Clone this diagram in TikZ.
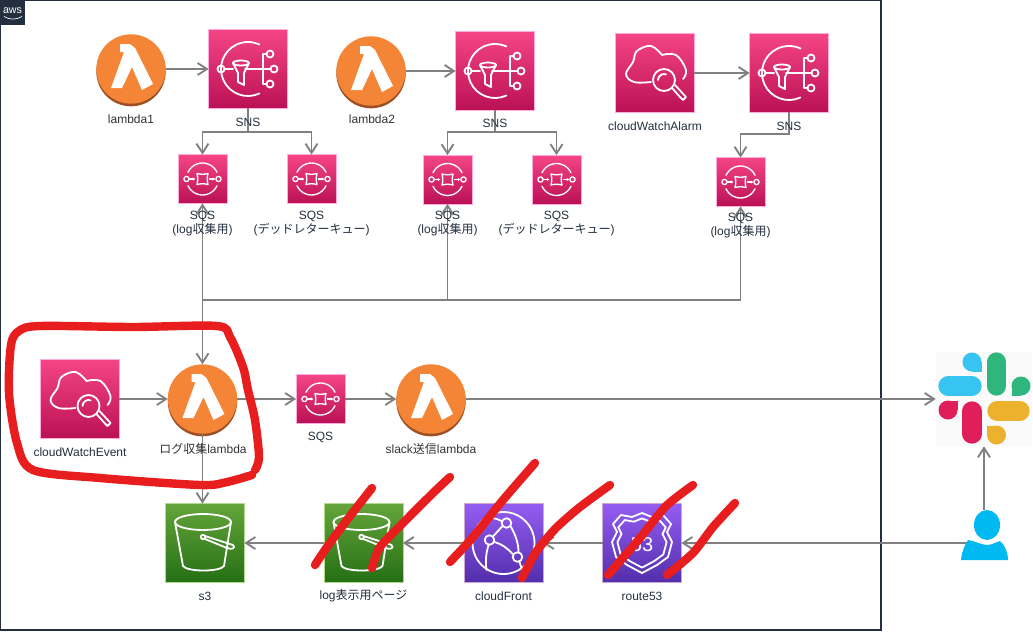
\documentclass[tikz,border=0pt]{standalone}
\usepackage{fontspec}
\setmainfont{Liberation Sans}
\newfontfamily\cjk{Noto Sans CJK JP}
\usetikzlibrary{arrows.meta,positioning,calc}
\definecolor{awsnavy}{HTML}{232F3E}
\definecolor{linegray}{HTML}{808080}
\definecolor{scribred}{HTML}{E81D1D}
\definecolor{lamorange}{HTML}{F58536}
\definecolor{lamdark}{HTML}{9D5025}
\tikzset{
  icbox/.style={rectangle, inner sep=0pt, outer sep=0pt, minimum size=59pt, line width=.5pt},
  icPink/.style={icbox, draw=pink!70!magenta!70, top color=HTMLpinkT, bottom color=HTMLpinkB},
  icSmall/.style={icPink, minimum size=36.5pt},
  icGreen/.style={icbox, draw=green!40!olive!45, top color=HTMLgreenT, bottom color=HTMLgreenB},
  icPurple/.style={icbox, draw=violet!35, top color=HTMLpurpT, bottom color=HTMLpurpB},
  lamb/.style={circle, inner sep=0pt, outer sep=0pt, minimum size=52pt, fill=lamorange,
               preaction={fill=lamdark, transform canvas={yshift=-2pt}}},
  lbl/.style={font=\fontsize{9}{10.5}\selectfont, text=awsnavy, align=center, inner sep=0pt},
  lblD/.style={lbl, text=black!80},
  ar/.style={-{Straight Barb[length=7pt,width=9pt]}, line width=1.4pt, draw=linegray},
  arb/.style={{Straight Barb[length=7pt,width=9pt]}-{Straight Barb[length=7pt,width=9pt]},
              line width=1.4pt, draw=linegray},
  gl/.style={draw=white, line width=1.35pt, line cap=round, line join=round},
  gls/.style={gl, line width=1pt},
  scrib/.style={draw=scribred, line width=6.3pt, line cap=round, line join=round},
  slackbar/.style={line width=14.5pt, line cap=round},
  lambdaglyph/.pic={
    \fill[white] (-11,-25) -- (-11,-17) -- (-7,-17) -- (-20,19) -- (-9,19) -- (1,-2)
      -- (11,21) -- (22,15) -- (4,-21) -- (-1,-25) -- cycle;
  },
  snsglyph/.pic={
    \draw[gl] (65:27) arc[start angle=65,end angle=295,radius=27];
    \draw[gl] (-27,0) circle[radius=3.5] (-23.5,0) -- (-15,0);
    \draw[gl] (-7,-6) ellipse[x radius=8,y radius=2.5];
    \draw[gl] (-15,-6) -- (-10,4) -- (-10,13) -- (-4,16) -- (-4,4) -- (1,-6);
    \draw[gl] (-3,0) -- (22.5,0) (15,-15) -- (15,15) (15,-15) -- (18.5,-15) (15,15) -- (18.5,15);
    \draw[gl] (22,-15) circle[radius=3.5] (26,0) circle[radius=3.5] (22,15) circle[radius=3.5];
  },
  sqsglyph/.pic={
    \draw[gls] (25:16) arc[start angle=25,end angle=155,radius=16]
      (205:16) arc[start angle=205,end angle=335,radius=16];
    \draw[gls] (-16,0) circle[radius=2.6] (16,0) circle[radius=2.6];
    \draw[gls, -{Latex[length=2pt,width=2.5pt]}] (-13,0) -- (-7,0);
    \draw[gls, -{Latex[length=2pt,width=2.5pt]}] (7,0) -- (13,0);
    \draw[gls] (-5.5,-5.5) .. controls (-2,-4.5) and (2,-4.5) .. (5.5,-5.5)
      .. controls (4.5,-2) and (4.5,2) .. (5.5,5.5)
      .. controls (2,4.5) and (-2,4.5) .. (-5.5,5.5)
      .. controls (-4.5,2) and (-4.5,-2) .. (-5.5,-5.5) -- cycle;
  },
  cloudglyph/.pic={
    \draw[gl] plot[smooth, tension=.65] coordinates {(-4,9) (-21,9) (-29,1) (-22,-11) (-18,-22)
      (-4,-27) (7,-18)};
    \draw[gl] plot[smooth, tension=.65] coordinates {(7,-18) (21,-18) (31,-3) (28,6)};
    \draw[gl] (9,7) circle[radius=11];
    \draw[gl] (3,7) arc[start angle=180,end angle=290,radius=6];
    \draw[gl] (17,15) -- (25,24) -- (28,27) -- (31,24) -- (20,12);
  },
  bucketglyph/.pic={
    \draw[gl] (-2,-21) ellipse[x radius=28,y radius=8];
    \draw[gl] (-30,-21) -- (-22,23) .. controls (-18,29) and (15,29) .. (19,23) -- (26,-21);
    \draw[gl] (-2,-6) circle[radius=2.2] (0,-7) -- (28,2) .. controls (31,5) and (27,7) .. (22,5) -- (0,-4);
  },
  cfglyph/.pic={
    \draw[gl] (0,0) circle[radius=31];
    \draw[gl] (3,-20) circle[radius=4.8] (-14,-3) circle[radius=4.8] (14,14) circle[radius=4.8];
    \draw[gl] (-1,-17) -- (-10,-7) (-9,-1) .. controls (-2,1) and (4,5) .. (9,11);
    \draw[gl] (7,-17) .. controls (12,-8) and (15,0) .. (15,9);
    \draw[gl] (-15,2) .. controls (-18,12) and (-18,20) .. (-17,27);
    \draw[gl] (-2,-22) .. controls (-8,-25) and (-14,-27) .. (-22,-22);
    \draw[gl] (16,19) -- (18,25);
  },
  r53glyph/.pic={
    \foreach \s in {1,.82}
      \draw[gl, scale=\s] (0,-30) -- (-10,-26) -- (-21,-28) -- (-29,-19) -- (-25,-11) -- (-30,-1)
        -- (-26,14) -- (-15,22) -- (0,30) -- (15,22) -- (26,14) -- (30,-1) -- (25,-11)
        -- (29,-19) -- (21,-28) -- (10,-26) -- cycle;
    \node[text=white, font=\fontsize{15}{15}\selectfont, inner sep=0pt] (r53txt) at (0,2) {53};
  },
  slackglyph/.pic={
    \draw[slackbar, draw=slackblue] (-36,-13) -- (-12,-13);
    \fill[slackblue] (-12,-37) circle[radius=9.5];
    \fill[slackblue] (-12,-37) rectangle (-2.5,-27.5);
    \draw[slackbar, draw=slackgreen] (12.5,-37) -- (12.5,-13);
    \fill[slackgreen] (37,-13) circle[radius=9.5];
    \fill[slackgreen] (37,-13) rectangle (27.5,-3.5);
    \draw[slackbar, draw=slackred] (-12,12) -- (-12,35);
    \fill[slackred] (-36,11) circle[radius=9.5];
    \fill[slackred] (-36,11) rectangle (-26.5,1.5);
    \draw[slackbar, draw=slackyellow] (13,12) -- (36,12);
    \fill[slackyellow] (12.5,36) circle[radius=9.5];
    \fill[slackyellow] (12.5,36) rectangle (3,26.5);
  },
}
\definecolor{HTMLpinkT}{HTML}{F54585}
\definecolor{HTMLpinkB}{HTML}{BA1155}
\definecolor{HTMLgreenT}{HTML}{64A53B}
\definecolor{HTMLgreenB}{HTML}{256F14}
\definecolor{HTMLpurpT}{HTML}{945DF2}
\definecolor{HTMLpurpB}{HTML}{532EAC}
\definecolor{slackblue}{HTML}{36C5F0}
\definecolor{slackgreen}{HTML}{2EB67D}
\definecolor{slackred}{HTML}{E01E5A}
\definecolor{slackyellow}{HTML}{ECB22E}
\definecolor{usercyan}{HTML}{00B9F1}
\begin{document}
\begin{tikzpicture}[x=0.75pt,y=-0.75pt]
\useasboundingbox (0,0) rectangle (1033,632);

% ============================ aws frame =================================
\draw[draw=awsnavy, line width=.9pt] (0.6,0.6) rectangle (881,630);
\node[rectangle, fill=awsnavy, inner sep=0pt, minimum size=19pt] (awstab) at (12.5,12.5) {};
\node[text=white, font=\fontsize{8}{8}\selectfont, inner sep=0pt] (awstxt) at (12.5,10.5) {aws};
\draw[white, line width=.5pt] (4,16.5) .. controls (10,20) and (16,20) .. (22,16.5);

% ============================ top row ===================================
\node[lamb] (lam1) at (131,69) {};
\pic at (lam1) {lambdaglyph};
\node[icPink] (sns1) at (248,69) {};
\pic at (sns1) {snsglyph};
\node[lamb] (lam2) at (371,71) {};
\pic at (lam2) {lambdaglyph};
\node[icPink] (sns2) at (495,71) {};
\pic at (sns2) {snsglyph};
\node[icPink] (alarm) at (655,73) {};
\pic at (alarm) {cloudglyph};
\node[icPink] (sns3) at (789,73) {};
\pic at (sns3) {snsglyph};

% ============================ queues ====================================
\node[icSmall] (sqs1) at (202.5,179) {};
\node[icSmall] (dlq1) at (311.5,179) {};
\node[icSmall] (sqs2) at (447.5,179.5) {};
\node[icSmall] (dlq2) at (556.5,179.5) {};
\node[icSmall] (sqs3) at (740.5,182) {};
\node[icSmall] (sqs4) at (320.5,399) {};
\foreach \q in {sqs1,dlq1,sqs2,dlq2,sqs3,sqs4}
  \pic at (\q) {sqsglyph};

% ============================ collector row =============================
\node[icPink] (event) at (79.5,399) {};
\pic at (event) {cloudglyph};
\node[lamb] (lam3) at (202.5,399) {};
\pic at (lam3) {lambdaglyph};
\node[lamb] (lam4) at (431,399) {};
\pic at (lam4) {lambdaglyph};
\node[rectangle, fill=black!2, inner sep=0pt, minimum width=72pt, minimum height=70.5pt] (slack) at (984,399) {};
\pic at (slack) {slackglyph};

% ============================ bottom row ================================
\node[icGreen] (s3) at (205,543) {};
\pic at (s3) {bucketglyph};
\node[icGreen] (page) at (363.5,543) {};
\pic at (page) {bucketglyph};
\node[icPurple] (cf) at (503.5,543) {};
\pic at (cf) {cfglyph};
\node[icPurple] (r53) at (642,543) {};
\pic at (r53) {r53glyph};
\node[rectangle, inner sep=0pt, minimum width=35pt, minimum height=37.5pt] (user) at (984,535) {};
\coordinate (userport) at (970,543);

% ============================ connectors ================================
\draw[ar] (lam1) -- (sns1);
\draw[ar] (lam2) -- (sns2);
\draw[ar] (alarm) -- (sns3);
\draw[ar] (sns1.south) -- ++(0,24) -| (sqs1.north);
\draw[ar] (sns1.south) -- ++(0,24) -| (dlq1.north);
\draw[ar] (sns2.south) -- ++(0,22) -| (sqs2.north);
\draw[ar] (sns2.south) -- ++(0,22) -| (dlq2.north);
\draw[ar] (sns3.south) -- ++(0,22) -| (sqs3.north);

\coordinate (bus) at (202.5,300);
\draw[arb] (sqs1.south) -- (lam3.north);
\draw[ar] (bus) -| (sqs2.south);
\draw[ar] (bus) -| (sqs3.south);

\draw[ar] (event) -- (lam3);
\draw[ar] (lam3) -- (sqs4);
\draw[ar] (sqs4) -- (lam4);
\draw[ar] (lam4) -- (slack);
\draw[ar] (lam3.south) -- (lam3.south |- s3.north);
\draw[ar] (user) -- (slack);
\draw[ar] (userport) -- (r53.east);
\draw[ar] (r53) -- (cf);
\draw[ar] (cf) -- (page);
\draw[ar] (page) -- (s3);

% ============================ user ======================================
\fill[usercyan] (970,560) -- (961,560) .. controls (962,550) and (966,543) .. (968,540)
  .. controls (975,541) and (982,545) .. (987,545) .. controls (992,545) and (996,542) .. (1000,541)
  .. controls (1004,544) and (1008,552) .. (1008,560) -- cycle;
\fill[usercyan] (987,525) ellipse[x radius=13,y radius=15];

% ============================ labels ====================================
\node[lblD] (tlam1) at (131,119) {lambda1};
\node[lbl] (tsns1) at (248,122.5) {SNS};
\node[lblD] (tlam2) at (372,119) {lambda2};
\node[lbl] (tsns2) at (495,123.5) {SNS};
\node[lbl] (talarm) at (655,126) {cloudWatchAlarm};
\node[lbl] (tsns3) at (789,126) {SNS};
\node[lbl] (tsqs1) at (202.5,224) {SQS\\(log{\cjk 収集用})};
\node[lbl] (tdlq1) at (311.5,224) {SQS\\({\cjk デッドレターキュー})};
\node[lbl] (tsqs2) at (447.5,224) {SQS\\(log{\cjk 収集用})};
\node[lbl] (tdlq2) at (556.5,224) {SQS\\({\cjk デッドレターキュー})};
\node[lbl] (tsqs3) at (740.5,226) {SQS\\(log{\cjk 収集用})};
\node[lbl] (tevent) at (80,452) {cloudWatchEvent};
\node[lblD] (tlam3) at (203,449) {{\cjk ログ収集}lambda};
\node[lbl] (tsqs4) at (320.5,437) {SQS};
\node[lblD] (tlam4) at (431,449) {slack{\cjk 送信}lambda};
\node[lbl] (ts3) at (205,596) {s3};
\node[lbl] (tpage) at (363.5,596) {log{\cjk 表示用ページ}};
\node[lbl] (tcf) at (503.5,596) {cloudFront};
\node[lbl] (tr53) at (642,596) {route53};

% ============================ red marks =================================
\draw[scrib] plot[smooth, tension=.5] coordinates {(255,470) (259,457) (255,420) (248,390) (243,367)
  (230,337) (217,326) (133,327) (40,326) (19,331) (11,345) (9,393) (17,443) (33,470) (100,478) (200,485)
  (227,482) (252,475)};
\draw[scrib] plot[smooth, tension=.45] coordinates {(315,565) (327,547) (347,520) (372,488)};
\draw[scrib] plot[smooth, tension=.45] coordinates {(372,568) (380,547) (403,523) (433,493) (450,477)};
\draw[scrib] plot[smooth, tension=.45] coordinates {(450,562) (473,537) (503,500) (535,463)};
\draw[scrib] plot[smooth, tension=.4] coordinates {(522,578) (536,552) (556,528) (580,507) (610,485)};
\draw[scrib] plot[smooth, tension=.4] coordinates {(608,575) (640,538) (666,506) (693,485)};
\draw[scrib] plot[smooth, tension=.4] coordinates {(667,575) (693,553) (713,527) (735,503)};

\end{tikzpicture}
\end{document}
